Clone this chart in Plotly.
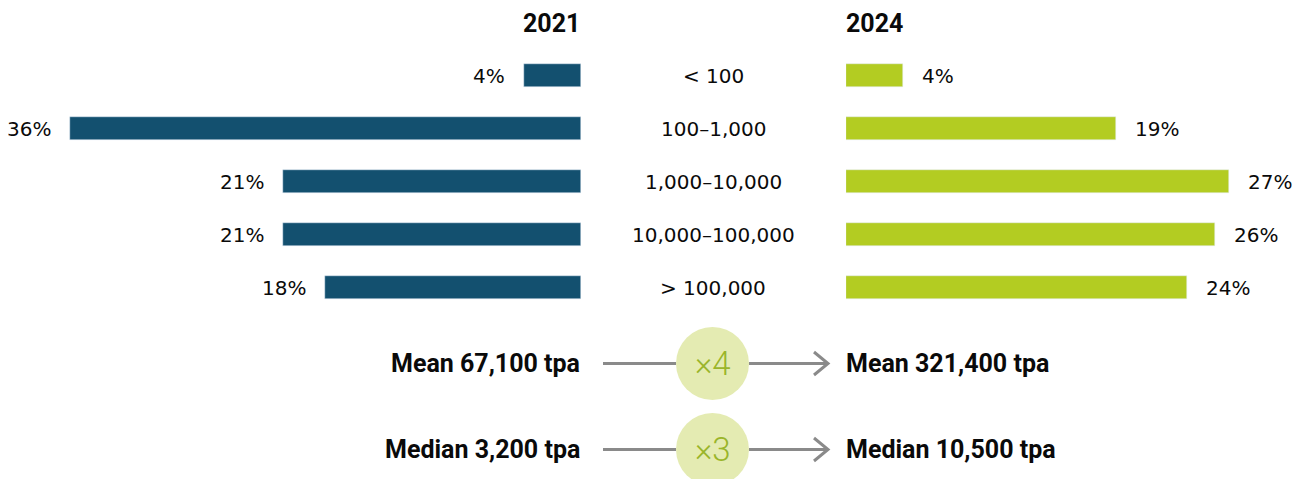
import plotly.graph_objects as go

categories = ["< 100", "100–1,000", "1,000–10,000", "10,000–100,000", "> 100,000"]
share_2021 = [4, 36, 21, 21, 18]
share_2024 = [4, 19, 27, 26, 24]
year_labels = ["2021", "2024"]
left_summary = ["Mean 67,100 tpa", "Median 3,200 tpa"]
right_summary = ["Mean 321,400 tpa", "Median 10,500 tpa"]
multipliers = ["×4", "×3"]

W, H = 1303, 479
OFF = 8  # page body margin
BLUE = "#13506f"
GREEN = "#b3cc22"
GRAY = "#8a8a8a"
CIRCLE = "#e4ebb2"
CIRCLE_TXT = "#9ab52a"
FONT = "DejaVu Sans"
BOLD = "Roboto"
TXT = "#0a0a0a"

px_per_pct = 14.2
left_edge = 581
right_start = 846
row0 = 75.5
row_gap = 53
bar_h = 23


def fx(p):
    return (p - OFF) / W


def fy(p):
    return 1 - (p - OFF) / H


ypos = list(range(len(categories)))
y_top = -(row0 - OFF) / row_gap
y_bot = (H - (row0 - OFF)) / row_gap

fig = go.Figure()
fig.add_trace(go.Bar(y=ypos, x=share_2021, orientation="h", marker_color=BLUE,
                     width=bar_h / row_gap, xaxis="x", yaxis="y", hoverinfo="skip"))
fig.add_trace(go.Bar(y=ypos, x=share_2024, orientation="h", marker_color=GREEN,
                     width=bar_h / row_gap, xaxis="x2", yaxis="y", hoverinfo="skip"))

ann = []
for i, v in enumerate(share_2021):
    ann.append(dict(x=v, y=i, xref="x", yref="y", text=f"{v}%", showarrow=False,
                    xanchor="right", yanchor="middle", xshift=-17,
                    font=dict(family=FONT, size=20, color=TXT)))
for i, v in enumerate(share_2024):
    ann.append(dict(x=v, y=i, xref="x2", yref="y", text=f"{v}%", showarrow=False,
                    xanchor="left", yanchor="middle", xshift=17,
                    font=dict(family=FONT, size=20, color=TXT)))
for i, c in enumerate(categories):
    ann.append(dict(x=fx(713), y=i, xref="paper", yref="y", text=c, showarrow=False,
                    xanchor="center", yanchor="middle", font=dict(family=FONT, size=20, color=TXT)))

ann.append(dict(x=fx(left_edge), y=fy(24), xref="paper", yref="paper", text=f"<b>{year_labels[0]}</b>",
                showarrow=False, xanchor="right", yanchor="middle", xshift=1,
                font=dict(family=BOLD, size=25, color=TXT)))
ann.append(dict(x=fx(right_start), y=fy(24), xref="paper", yref="paper", text=f"<b>{year_labels[1]}</b>",
                showarrow=False, xanchor="left", yanchor="middle", xshift=-2,
                font=dict(family=BOLD, size=25, color=TXT)))

shapes = []
for k, yc in enumerate([363.5, 449.5]):
    yp = fy(yc)
    ann.append(dict(x=fx(left_edge), y=yp, xref="paper", yref="paper", text=f"<b>{left_summary[k]}</b>",
                    showarrow=False, xanchor="right", yanchor="middle", xshift=1,
                    font=dict(family=BOLD, size=25, color=TXT)))
    ann.append(dict(x=fx(right_start), y=yp, xref="paper", yref="paper", text=f"<b>{right_summary[k]}</b>",
                    showarrow=False, xanchor="left", yanchor="middle", xshift=-2,
                    font=dict(family=BOLD, size=25, color=TXT)))
    shapes.append(dict(type="line", xref="paper", yref="paper", x0=fx(603), x1=fx(676), y0=yp, y1=yp,
                       line=dict(color=GRAY, width=3)))
    shapes.append(dict(type="line", xref="paper", yref="paper", x0=fx(749), x1=fx(827), y0=yp, y1=yp,
                       line=dict(color=GRAY, width=3)))
    shapes.append(dict(type="path", xref="paper", yref="paper",
                       path=f"M {fx(814)},{fy(yc - 11.5)} L {fx(828)},{yp} L {fx(814)},{fy(yc + 11.5)}",
                       line=dict(color=GRAY, width=3)))
    r = 36.5
    shapes.append(dict(type="circle", xref="paper", yref="paper", x0=fx(712.5 - r), x1=fx(712.5 + r),
                       y0=fy(yc + r), y1=fy(yc - r), fillcolor=CIRCLE, line=dict(width=0)))
    ann.append(dict(x=fx(713), y=yp, xref="paper", yref="paper", text=multipliers[k], showarrow=False,
                    xanchor="center", yanchor="middle",
                    font=dict(family="Roboto", size=33, color=CIRCLE_TXT, weight=300)))

fig.update_layout(
    width=W, height=H, margin=dict(l=0, r=0, t=0, b=0),
    paper_bgcolor="white", plot_bgcolor="white", showlegend=False,
    bargap=0,
    xaxis=dict(domain=[0, fx(left_edge)], range=[(left_edge - OFF) / px_per_pct, 0],
               visible=False, fixedrange=True),
    xaxis2=dict(domain=[fx(right_start), 1], range=[0, (W - (right_start - OFF)) / px_per_pct],
                visible=False, fixedrange=True),
    yaxis=dict(range=[y_bot, y_top], visible=False, fixedrange=True),
    annotations=ann, shapes=shapes,
)

fig.write_html("out.html")
